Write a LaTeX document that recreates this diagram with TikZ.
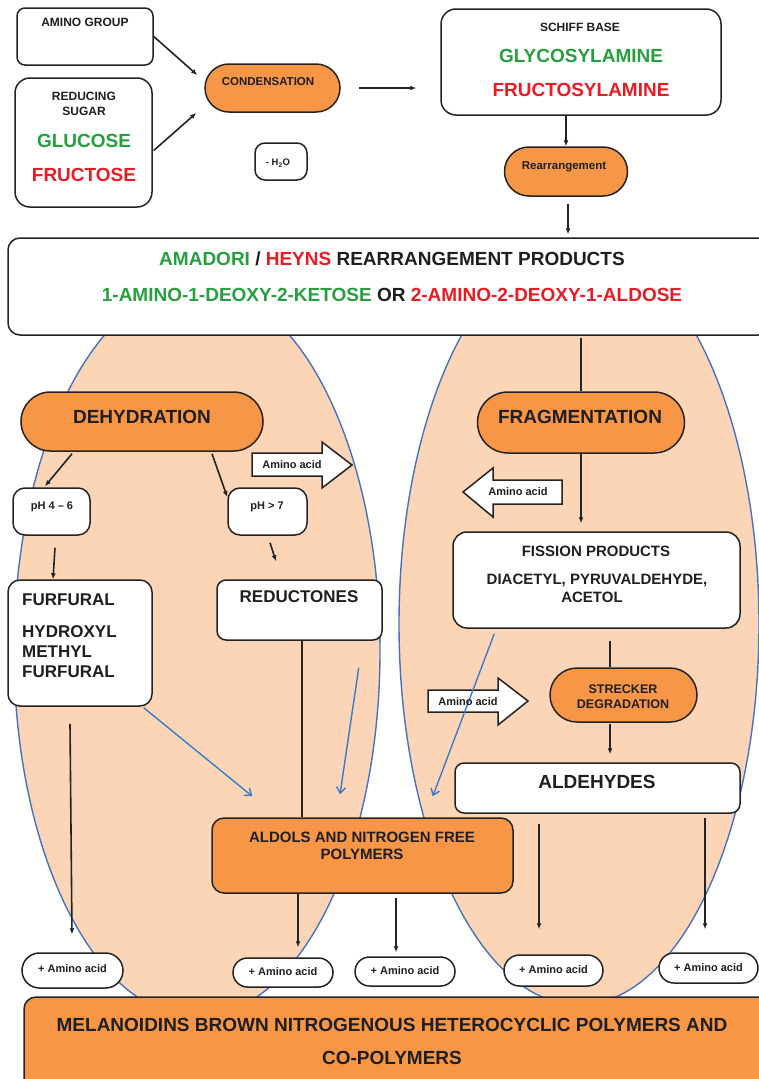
\documentclass[tikz,border=0pt]{standalone}
\usepackage{fontspec}
\setmainfont{Liberation Sans}
\usetikzlibrary{shapes.misc,arrows.meta,calc}
\definecolor{orng}{RGB}{247,150,70}
\definecolor{peach}{RGB}{251,213,181}
\definecolor{eblue}{RGB}{70,114,190}
\definecolor{ablue}{RGB}{56,124,204}
\definecolor{grn}{RGB}{38,160,62}
\definecolor{rd}{RGB}{232,28,36}
\definecolor{lc}{RGB}{35,35,35}
\newcommand\myfs[1]{\fontsize{#1}{#1}\selectfont\bfseries}
\begin{document}
\begin{tikzpicture}[x=1pt,y=-1pt,
 bx/.style={draw=lc,line width=1.5pt,fill=white,rounded corners=#1,inner sep=0pt},
 obx/.style={bx=#1,fill=orng},
 pill/.style={rounded rectangle,draw=lc,line width=1.5pt,fill=orng,inner sep=0pt},
 wpill/.style={pill,fill=white},
 tx/.style={inner sep=0pt,font=\myfs{#1},text=black!88},
 arr/.style={draw=lc,line width=1.6pt,-{Latex[length=6pt,width=5pt]}},
 ln/.style={draw=lc,line width=1.6pt},
 barr/.style={draw=ablue,line width=1.4pt,-{Straight Barb[length=6pt,width=9pt]}},
 ell/.style={fill=peach,draw=eblue,line width=1.4pt},
 barrow/.style={draw=lc,line width=1.5pt,fill=white,line join=miter}
]
\fill[white] (0,0) rectangle (759,1079);
\useasboundingbox (0,0) rectangle (759,1079);

% ellipses
\draw[ell] (197,651) ellipse [x radius=183pt, y radius=366pt];
\draw[ell] (579,624) ellipse [x radius=180pt, y radius=381pt];

% top section
\node[bx=8pt,minimum width=136pt,minimum height=57pt] (amino) at (85,36.5) {};
\node[bx=15pt,minimum width=137pt,minimum height=129pt] (sugar) at (83.5,142.5) {};
\node[pill,minimum width=135pt,minimum height=48pt] (cond) at (272.5,88) {};
\node[bx=10pt,minimum width=52pt,minimum height=37pt] (h2o) at (281,161.5) {};
\node[bx=15pt,minimum width=280pt,minimum height=106pt] (schiff) at (581,62) {};
\node[pill,minimum width=123pt,minimum height=49pt] (rearr) at (566,171.5) {};

% banner
\node[bx=12pt,minimum width=762pt,minimum height=97pt] (banner) at (389,286.5) {};

% melanoidins
\node[obx=12pt,minimum width=751pt,minimum height=98pt] (melan) at (399.5,1046) {};

% left ellipse content
\node[pill,minimum width=242pt,minimum height=59pt] (dehyd) at (142,421.5) {};
\node[bx=12pt,minimum width=77pt,minimum height=47pt] (ph46) at (51.5,511.5) {};
\node[bx=12pt,minimum width=79pt,minimum height=47pt] (ph7) at (267.5,511.5) {};
\node[bx=12pt,minimum width=144pt,minimum height=126pt] (furf) at (80,643) {};
\node[bx=9pt,minimum width=165pt,minimum height=60pt] (reduc) at (299.5,610) {};

% right ellipse content
\node[pill,minimum width=207pt,minimum height=61pt] (frag) at (581,422.5) {};
\node[bx=14pt,minimum width=287pt,minimum height=96pt] (fission) at (596.5,580) {};
\node[pill,minimum width=147pt,minimum height=54pt] (streck) at (623.5,695) {};
\node[bx=9pt,minimum width=285pt,minimum height=50pt] (aldeh) at (597.5,788) {};

% aldols
\node[obx=12pt,minimum width=301pt,minimum height=75pt] (aldols) at (362.5,855.5) {};

% + amino acid pills
\node[wpill,minimum width=101pt,minimum height=35pt] (aa1) at (72.5,970.5) {};
\node[wpill,minimum width=100pt,minimum height=29pt] (aa2) at (283,972.5) {};
\node[wpill,minimum width=100pt,minimum height=29pt] (aa3) at (405,971.5) {};
\node[wpill,minimum width=99pt,minimum height=31pt] (aa4) at (553.5,970.5) {};
\node[wpill,minimum width=99pt,minimum height=30pt] (aa5) at (708.5,968) {};

% block arrows
\draw[barrow] (252,453) -- (322,453) -- (322,442) -- (352,465) -- (322,488) -- (322,476) -- (252,476) -- cycle;
\draw[barrow] (562,480) -- (493,480) -- (493,468) -- (463,492) -- (493,517) -- (493,504) -- (562,504) -- cycle;
\draw[barrow] (428,690) -- (498,690) -- (498,678) -- (528,701) -- (498,725) -- (498,712) -- (428,712) -- cycle;

% connectors
\draw[arr] (amino.east) -- ($(cond.west)+(-7,-13)$);
\draw[arr] ($(sugar.east)+(1,8)$) -- ($(cond.west)+(-8,25)$);
\draw[arr] ($(cond.east)+(18,0)$) -- ($(schiff.west)+(-24,26)$);
\draw[arr] (schiff.south -| rearr.north) -- (rearr.north);
\draw[arr] ($(rearr.south)+(2,7)$) -- ($(banner.north)+(179,-3)$);
\draw[ln] ($(banner.south -| frag.north)+(0,2)$) -- (frag.north);
\draw[arr] ($(dehyd.south)+(-70,2)$) -- ($(ph46.north)+(-6.5,-1)$);
\draw[arr] ($(dehyd.south)+(70,2)$) -- ($(ph7.west)+(0,-14.5)$);
\draw[arr] ($(ph46.south)+(3.5,12)$) -- ($(furf.north)+(-27,0)$);
\draw[arr] ($(ph7.south)+(2.5,7)$) -- ($(reduc.north)+(-23.5,-18)$);
\draw[ln] ($(reduc.south)+(2.5,0)$) -- ($(reduc.south |- aldols.north)+(2.5,0)$);
\draw[arr] ($(aldols.south)+(-64.5,0)$) -- ($(aa2.north)+(15,-10)$);
\draw[arr] ($(aldols.south)+(33.5,4)$) -- ($(aa3.north)+(-9,-4)$);
\draw[arr] ($(furf.south)+(-10,17)$) -- ($(aa1.north)+(-0.5,-18)$);
\draw[arr] (frag.south) -- ($(frag.south |- fission.north)+(0,-8)$);
\draw[ln] ($(fission.south)+(13.5,12)$) -- ($(streck.north)+(-13.5,0)$);
\draw[arr] ($(streck.south)+(-13.5,1)$) -- ($(aldeh.north)+(12.5,-8)$);
\draw[arr] ($(aldeh.south)+(-58.5,10)$) -- ($(aa4.north)+(-14.5,-25)$);
\draw[arr] ($(aldeh.south)+(107.5,4)$) -- ($(aa5.north)+(-3.5,-23)$);
\draw[barr] ($(furf.south east)+(-9,1)$) -- ($(aldols.north west)+(41,-21)$);
\draw[barr] ($(reduc.south east)+(-24,27)$) -- ($(aldols.north)+(-22.5,-23)$);
\draw[barr] ($(fission.south west)+(42,5)$) -- ($(aldols.north east)+(-81,-21)$);

% texts
\node[tx=12] (t-amino) at (85,22) {AMINO GROUP};
\node[tx=12] (t-red1) at (84,96) {REDUCING};
\node[tx=12] (t-red2) at (84,111) {SUGAR};
\node[tx=19,text=grn] (t-glu) at (84,141) {GLUCOSE};
\node[tx=19,text=rd] (t-fru) at (84,175) {FRUCTOSE};
\node[tx=11.5] (t-cond) at (268,82) {CONDENSATION};
\node[tx=9.5] (t-h2o) at (278,163) {- H\textsubscript{2}O};
\node[tx=12] (t-schiff) at (580,27) {SCHIFF BASE};
\node[tx=19,text=grn] (t-glyc) at (581,56) {GLYCOSYLAMINE};
\node[tx=19,text=rd] (t-fruc) at (581,90) {FRUCTOSYLAMINE};
\node[tx=11.5] (t-rearr) at (564,167) {Rearrangement};
\node[tx=19] (t-ban1) at (392,259) {\textcolor{grn}{AMADORI} / \textcolor{rd}{HEYNS} REARRANGEMENT PRODUCTS};
\node[tx=19] (t-ban2) at (392,295) {\textcolor{grn}{1-AMINO-1-DEOXY-2-KETOSE} OR \textcolor{rd}{2-AMINO-2-DEOXY-1-ALDOSE}};
\node[tx=19] (t-dehyd) at (142,417) {DEHYDRATION};
\node[tx=11] (t-ph46) at (52,507) {pH 4 – 6};
\node[tx=11] (t-ph7) at (267,507) {pH > 7};
\node[tx=11] (t-aa-r1) at (292,465) {Amino acid};
\node[tx=17,anchor=west] (t-furf1) at (22,600) {FURFURAL};
\node[tx=17,anchor=west] (t-furf2) at (22,632) {HYDROXYL};
\node[tx=17,anchor=west] (t-furf3) at (22,652) {METHYL};
\node[tx=17,anchor=west] (t-furf4) at (22,672) {FURFURAL};
\node[tx=17] (t-reduc) at (299,597) {REDUCTONES};
\node[tx=19] (t-frag) at (580,417) {FRAGMENTATION};
\node[tx=11] (t-aa-l) at (518,492) {Amino acid};
\node[tx=15] (t-fis1) at (596,551) {FISSION PRODUCTS};
\node[tx=15] (t-fis2) at (597,580) {DIACETYL, PYRUVALDEHYDE,};
\node[tx=15] (t-fis3) at (592,597) {ACETOL};
\node[tx=12.5] (t-str1) at (623,689) {STRECKER};
\node[tx=12.5] (t-str2) at (623,704) {DEGRADATION};
\node[tx=11] (t-aa-r2) at (468,702) {Amino acid};
\node[tx=19] (t-aldeh) at (597,782) {ALDEHYDES};
\node[tx=15] (t-ald1) at (362,837) {ALDOLS AND NITROGEN FREE};
\node[tx=15] (t-ald2) at (362,854) {POLYMERS};
\node[tx=11] (t-aa1) at (72.5,969) {+ Amino acid};
\node[tx=11] (t-aa2) at (283,972) {+ Amino acid};
\node[tx=11] (t-aa3) at (405,971) {+ Amino acid};
\node[tx=11] (t-aa4) at (553.5,970) {+ Amino acid};
\node[tx=11] (t-aa5) at (708.5,968) {+ Amino acid};
\node[tx=19] (t-mel1) at (392,1025) {MELANOIDINS BROWN NITROGENOUS HETEROCYCLIC POLYMERS AND};
\node[tx=19] (t-mel2) at (392,1058) {CO-POLYMERS};
\end{tikzpicture}
\end{document}
